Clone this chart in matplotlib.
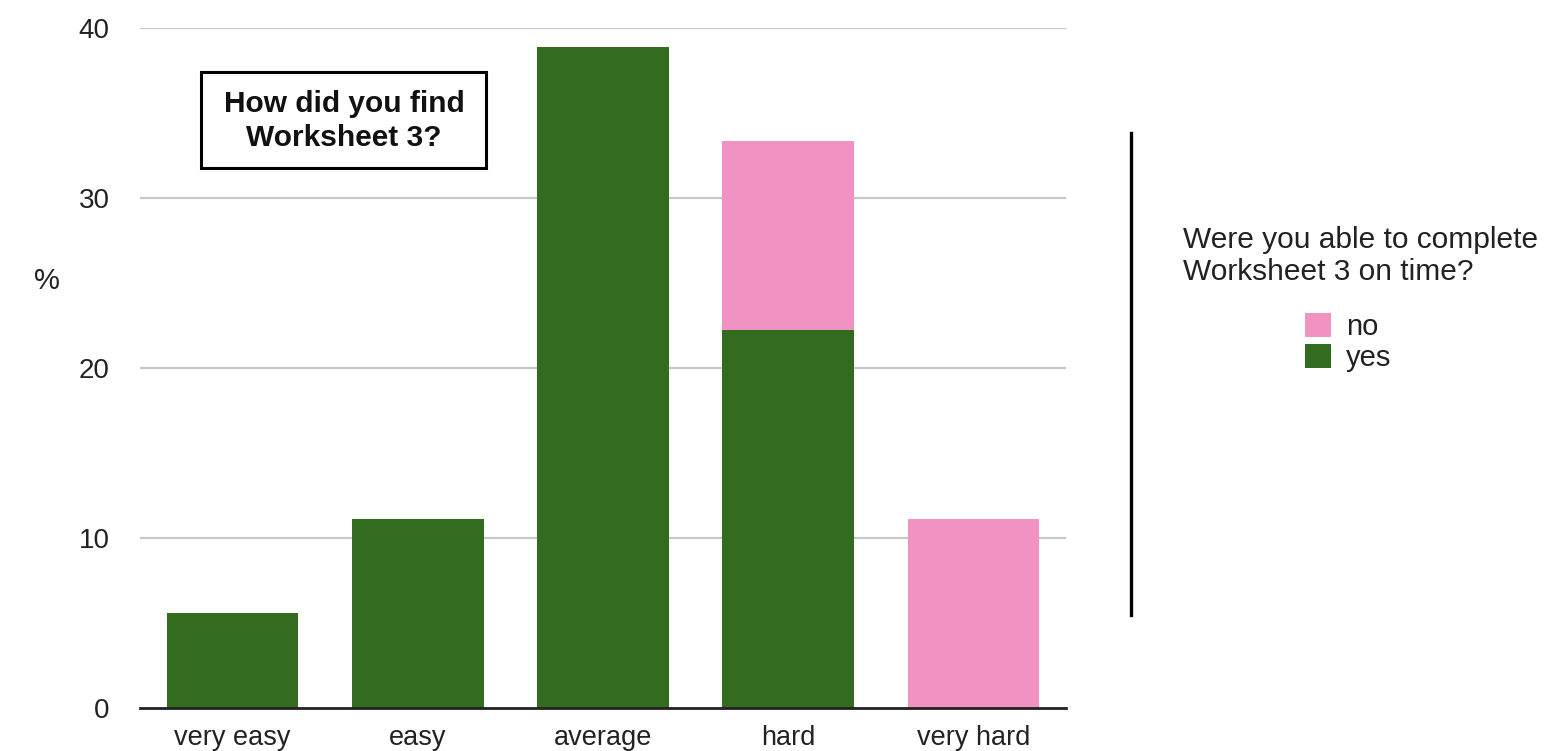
import matplotlib
matplotlib.use("Agg")
import matplotlib.pyplot as plt
from matplotlib.patches import Rectangle, Patch
from matplotlib.lines import Line2D

plt.rcParams['font.family'] = ['Liberation Sans', 'DejaVu Sans']

categories = ["very easy", "easy", "average", "hard", "very hard"]
yes_pct = [5.56, 11.11, 38.89, 22.22, 0.0]
no_pct = [0.0, 0.0, 0.0, 11.11, 11.11]
y_ticks = [0, 10, 20, 30, 40]

GREEN = "#336B1F"
PINK = "#F093C3"
GRID = "#C8C8C8"
TEXT = "#222222"

W, H = 1547, 751
fig = plt.figure(figsize=(W / 100, H / 100), dpi=100)


def fx(px):
    return px / W


def fy(py):
    return 1 - py / H


ax = fig.add_axes([fx(140), fy(708), fx(1066) - fx(140), fy(28) - fy(708)])

x = range(len(categories))
ax.bar(x, yes_pct, width=0.71, color=GREEN, zorder=3)
ax.bar(x, no_pct, width=0.71, bottom=yes_pct, color=PINK, zorder=3)

ax.set_xlim(-0.5, len(categories) - 0.5)
ax.set_ylim(0, 40)
ax.set_yticks(y_ticks)
ax.set_xticks(list(x))
ax.set_xticklabels(categories)
ax.tick_params(axis='y', length=0, labelsize=20, colors=TEXT, pad=22)
ax.tick_params(axis='x', length=0, labelsize=19.5, colors=TEXT, pad=12)

for v in y_ticks[1:]:
    ax.axhline(v, color=GRID, lw=1.6, zorder=1)
for s in ["top", "right", "left"]:
    ax.spines[s].set_visible(False)
ax.spines["bottom"].set_color(TEXT)
ax.spines["bottom"].set_linewidth(2.0)
ax.spines["bottom"].set_zorder(4)

fig.text(fx(47), fy(281), "%", fontsize=21, color=TEXT,
         ha="center", va="center")

# chart title box
fig.patches.append(Rectangle((fx(201), fy(168)), fx(486) - fx(201), fy(72) - fy(168),
                             transform=fig.transFigure, fill=False,
                             edgecolor="black", lw=2.2, zorder=5))
fig.text(fx(344), fy(121), "How did you find\nWorksheet 3?", fontsize=21.5,
         fontweight="bold", ha="center", va="center", linespacing=1.25,
         color="#111111")

# divider line
fig.add_artist(Line2D([fx(1131), fx(1131)], [fy(133), fy(615)],
                      transform=fig.transFigure, color="black", lw=2.4))

# legend
fig.text(fx(1183), fy(256), "Were you able to complete\nWorksheet 3 on time?",
         fontsize=21.5, ha="left", va="center", linespacing=1.16, color=TEXT)
handles = [Patch(facecolor=PINK, edgecolor="none", label="no"),
           Patch(facecolor=GREEN, edgecolor="none", label="yes")]
fig.legend(handles=handles, loc="upper left",
           bbox_to_anchor=(fx(1305), fy(313)), frameon=False, fontsize=21,
           handlelength=0.9, handleheight=0.9, handletextpad=0.5,
           labelspacing=0.1, borderpad=0, borderaxespad=0, labelcolor=TEXT)

fig.savefig("out.png", dpi=100)
